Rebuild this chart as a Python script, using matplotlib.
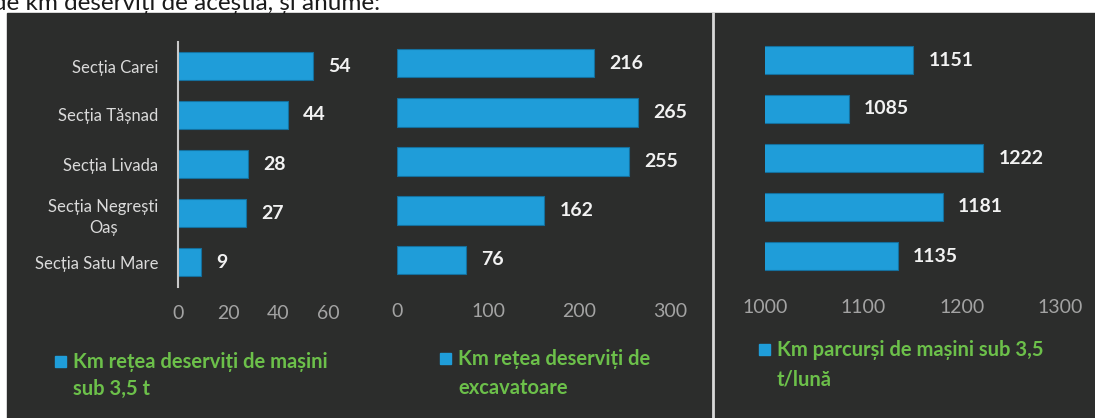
import matplotlib.pyplot as plt
from matplotlib.patches import Rectangle

plt.rcParams['font.family'] = ['Lato', 'DejaVu Sans']

# data
sectii = ['Secția Carei', 'Secția Tășnad', 'Secția Livada',
          'Secția Negrești\nOaș', 'Secția Satu Mare']
km_masini = [54, 44, 28, 27, 9]
km_excavatoare = [216, 265, 255, 162, 76]
km_parcursi = [1151, 1085, 1222, 1181, 1135]

leg_masini = ['Km rețea deserviți de mașini', 'sub 3,5 t']
leg_excav = ['Km rețea deserviți de', 'excavatoare']
leg_parcursi = ['Km parcurși de mașini sub 3,5', 't/lună']

W, H = 1095, 418
BLUE = '#1f9dd9'
GREEN = '#6cc04a'

fig = plt.figure(figsize=(W / 100, H / 100), dpi=100)
fig.patch.set_facecolor('white')


def px(x0, y0, x1, y1):
    # pixel box (top-left origin) -> figure fraction rect
    return [x0 / W, 1 - y1 / H, (x1 - x0) / W, (y1 - y0) / H]


bg = fig.add_axes([0, 0, 1, 1])
bg.set_axis_off()
bg.set_xlim(0, W)
bg.set_ylim(H, 0)
bg.add_patch(Rectangle((7, 13), W - 7, H - 13, color='#2c2d2c'))
bg.plot([713, 713], [13, H], color='#d8d8d8', lw=2)
bg.text(-7, 10, 'de km deserviți de aceștia, și anume:', fontsize=17.5,
        color='#1a1a1a', va='baseline')


def panel(box, values, xlim, ticks, legend, leg_x, leg_y, leg_gap, cats=None):
    ax = fig.add_axes(px(*box))
    ax.set_facecolor('none')
    y = list(range(len(values)))
    ax.barh(y, values, height=0.58, color=BLUE, edgecolor='#14709e', lw=0.8)
    ax.set_xlim(*xlim)
    ax.set_ylim(len(values) - 0.5, -0.5)
    ax.set_xticks(ticks)
    ax.tick_params(axis='x', length=0, pad=13, labelsize=14, labelcolor='#a3a3a3')
    for s in ax.spines.values():
        s.set_visible(False)
    if cats:
        ax.set_yticks(y, cats)
        ax.tick_params(axis='y', length=0, pad=14, labelsize=12, labelcolor='#dadada')
        for t in ax.get_yticklabels():
            t.set_multialignment('center')
            t.set_linespacing(1.45)
        ax.spines['left'].set_visible(True)
        ax.spines['left'].set_color('#c8c8c8')
        ax.spines['left'].set_linewidth(1.5)
    else:
        ax.set_yticks([])
    for yi, v in zip(y, values):
        ax.annotate(str(v), (v, yi), xytext=(11, 0), textcoords='offset points',
                    va='center', ha='left', color='#f2f2f2', fontsize=14,
                    fontweight='bold')
    # legend: blue square + green wrapped text
    bg.add_patch(Rectangle((leg_x - 18, leg_y - 6), 11, 11, color=BLUE))
    for i, line in enumerate(legend):
        bg.text(leg_x, leg_y + i * leg_gap, line, fontsize=14.5, fontweight='bold',
                color=GREEN, va='center', ha='left')
    return ax


panel((178, 41.5, 328, 286.5), km_masini, (0, 60), [0, 20, 40, 60],
      leg_masini, 73, 362, 27, cats=sectii)
panel((397, 38.5, 670, 284.5), km_excavatoare, (0, 300), [0, 100, 200, 300],
      leg_excav, 458, 359, 29)
panel((765, 35.5, 1060, 280.5), km_parcursi, (1000, 1300),
      [1000, 1100, 1200, 1300], leg_parcursi, 777, 350, 30)

fig.savefig('out.png', dpi=100, facecolor=fig.get_facecolor())
